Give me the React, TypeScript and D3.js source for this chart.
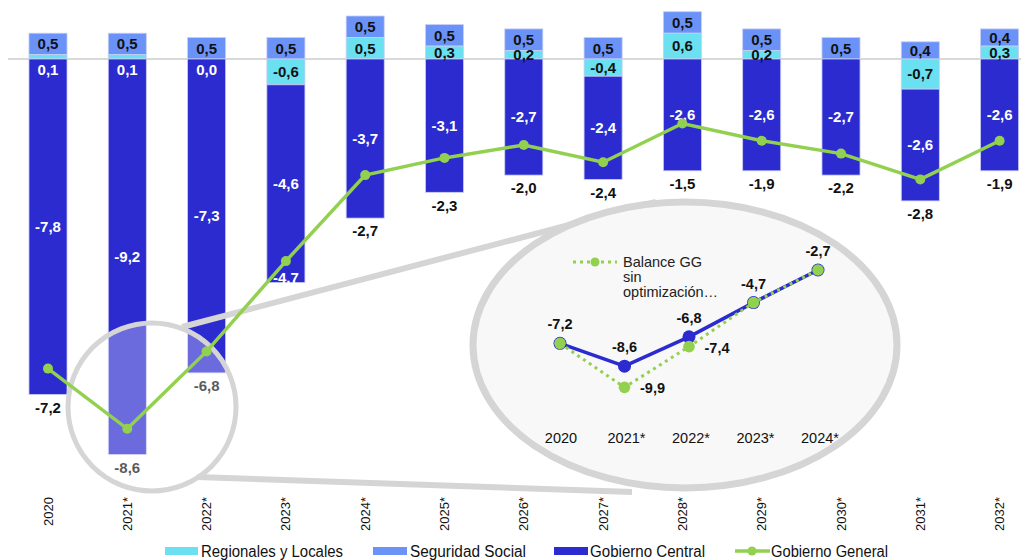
import React from 'react';
import * as d3 from 'd3';

// ---------- data ----------
const years = ['2020', '2021*', '2022*', '2023*', '2024*', '2025*', '2026*', '2027*', '2028*', '2029*', '2030*', '2031*', '2032*'];
const seguridadSocial = [0.5, 0.5, 0.5, 0.5, 0.5, 0.5, 0.5, 0.5, 0.5, 0.5, 0.5, 0.4, 0.4];
const regionalesLocales: (number | null)[] = [0.1, 0.1, 0.0, -0.6, 0.5, 0.3, 0.2, -0.4, 0.6, 0.2, null, -0.7, 0.3];
const gobiernoCentral = [-7.8, -9.2, -7.3, -4.6, -3.7, -3.1, -2.7, -2.4, -2.6, -2.6, -2.7, -2.6, -2.6];
const gobiernoGeneral = [-7.2, -8.6, -6.8, -4.7, -2.7, -2.3, -2.0, -2.4, -1.5, -1.9, -2.2, -2.8, -1.9];
const totalLabelInside = ['2023*'];

const insetYears = ['2020', '2021*', '2022*', '2023*', '2024*'];
const insetBalanceGG = [-7.2, -8.6, -6.8, -4.7, -2.7];
const insetSinOptimizacion = [-7.2, -9.9, -7.4, -4.7, -2.7];
const insetSinOptOnly = ['2021*', '2022*'];

const legendItems = ['Regionales y Locales', 'Seguridad Social', 'Gobierno Central', 'Gobierno General'];

// ---------- styles ----------
const C_CENTRAL = '#2B2BD0';
const C_SS = '#6B93F7';
const C_REG = '#6BE0F0';
const C_GG = '#92D050';
const C_GRAY = '#D5D5D5';
const FONT = "'Liberation Sans', Arial, sans-serif";
const NARROW = "'Liberation Sans Narrow', 'Arial Narrow', 'Liberation Sans', Arial, sans-serif";

const fmt = (v: number) => d3.format('.1f')(v).replace('.', ',').replace('−', '-');

export default function App() {
  const W = 1021, H = 560;
  const x = d3.scaleBand<string>().domain(years).range([8.35, 1039.25]).paddingInner(0.52).paddingOuter(0.26);
  const y = d3.scaleLinear().domain([1, -10]).range([16, 489]);
  const bw = x.bandwidth();
  const cx = (yr: string) => (x(yr) as number) + bw / 2;

  const ix = d3.scalePoint<string>().domain(insetYears).range([560, 818]);
  const iy = d3.scaleLinear().domain([-2, -10]).range([258.6, 389]);

  const line = d3.line<number>().x((_, i) => cx(years[i])).y(d => y(d));
  const iline = d3.line<number>().x((_, i) => ix(insetYears[i]) as number).y(d => iy(d));

  const bars = years.map((yr, i) => {
    const r = regionalesLocales[i] ?? 0;
    const ssBase = r > 0 ? r : 0;
    const cBase = r < 0 ? r : 0;
    return { yr, r, rRaw: regionalesLocales[i], ss: seguridadSocial[i], ssBase, c: gobiernoCentral[i], cBase };
  });
  const rect = (a: number, b: number) => ({ y: y(Math.max(a, b)), height: Math.abs(y(a) - y(b)) });
  const barStroke = '#C9CEF5';

  const lbl = { fontFamily: FONT, fontWeight: 700, fontSize: 15, textAnchor: 'middle' as const };

  return (
    <svg width={W} height={H} style={{ position: 'absolute', left: 0, top: 0, background: '#fff' }}>
      {/* zero line */}
      <line x1={8} x2={W} y1={y(0)} y2={y(0)} stroke="#D9D9D9" strokeWidth={2} />

      {/* bars */}
      {bars.map(b => {
        const X = x(b.yr) as number;
        const ss = rect(b.ssBase, b.ssBase + b.ss);
        const rg = rect(0, b.r);
        const ce = rect(b.cBase, b.cBase + b.c);
        return (
          <g key={b.yr}>
            <rect x={X} width={bw} y={ss.y} height={ss.height} fill={C_SS} stroke={barStroke} strokeWidth={0.8} />
            {b.r !== 0 && <rect x={X} width={bw} y={rg.y} height={rg.height} fill={C_REG} stroke={barStroke} strokeWidth={0.8} />}
            <rect x={X} width={bw} y={ce.y} height={ce.height} fill={C_CENTRAL} stroke={barStroke} strokeWidth={0.8} />
          </g>
        );
      })}

      {/* bar labels */}
      {bars.map(b => {
        const X = cx(b.yr);
        const ssMid = y(b.ssBase + b.ss / 2);
        const cMid = y(b.cBase + b.c / 2);
        const bottom = y(b.cBase + b.c);
        const inside = totalLabelInside.includes(b.yr);
        const tot = gobiernoGeneral[years.indexOf(b.yr)];
        let regLabel = null as React.ReactNode;
        if (b.rRaw !== null) {
          if (Math.abs(b.r) < 0.15) {
            regLabel = <text {...lbl} x={X} y={y(0) + 11} dy="0.35em" fill="#fff">{fmt(b.r)}</text>;
          } else {
            regLabel = <text {...lbl} x={X} y={y(b.r / 2)} dy="0.35em" fill="#111">{fmt(b.r)}</text>;
          }
        }
        return (
          <g key={b.yr}>
            <text {...lbl} x={X} y={ssMid} dy="0.35em" fill="#111">{fmt(b.ss)}</text>
            {regLabel}
            <text {...lbl} x={X} y={cMid} dy="0.35em" fill="#fff">{fmt(b.c)}</text>
            <text {...lbl} x={X} y={inside ? bottom - 5 : bottom + 13} dy="0.35em" fill={inside ? '#fff' : '#111'}>{fmt(tot)}</text>
          </g>
        );
      })}

      {/* magnifier: small lens overlay */}
      <circle cx={152} cy={407} r={84} fill="#fff" fillOpacity={0.3} />
      {/* connectors */}
      <line x1={182} y1={327} x2={656} y2={202} stroke={C_GRAY} strokeWidth={6} />
      <line x1={197} y1={477} x2={632} y2={492} stroke={C_GRAY} strokeWidth={6} />
      <circle cx={152} cy={407} r={84} fill="none" stroke={C_GRAY} strokeWidth={5} />

      {/* big ellipse */}
      <ellipse cx={685} cy={345} rx={212} ry={143} fill="#F8F8F8" stroke={C_GRAY} strokeWidth={7} />

      {/* inset legend */}
      <line x1={573} x2={617} y1={262} y2={262} stroke={C_GG} strokeWidth={3} strokeDasharray="3,4" />
      <circle cx={595} cy={262} r={4.5} fill={C_GG} />
      <g fontFamily={FONT} fontSize={14.5} fill="#222">
        <text x={623} y={262} dy="0.35em">Balance GG</text>
        <text x={623} y={277} dy="0.35em">sin</text>
        <text x={623} y={292} dy="0.35em">optimización…</text>
      </g>

      {/* inset lines */}
      <path d={iline(insetBalanceGG) as string} fill="none" stroke={C_CENTRAL} strokeWidth={3.5} />
      {insetBalanceGG.map((v, i) => (
        <circle key={'b' + i} cx={ix(insetYears[i]) as number} cy={iy(v)} r={6.5} fill={C_CENTRAL} />
      ))}
      <path d={iline(insetSinOptimizacion) as string} fill="none" stroke={C_GG} strokeWidth={3} strokeDasharray="3,4" />
      {insetSinOptimizacion.map((v, i) => (
        <circle key={'g' + i} cx={ix(insetYears[i]) as number} cy={iy(v)} r={5.8} fill={C_GG} />
      ))}
      {insetBalanceGG.map((v, i) => (
        <text key={'bl' + i} {...lbl} fontSize={14.5} x={ix(insetYears[i]) as number} y={iy(v) - 19} dy="0.35em" fill="#111">{fmt(v)}</text>
      ))}
      {insetSinOptimizacion.map((v, i) =>
        insetSinOptOnly.includes(insetYears[i]) ? (
          <text key={'gl' + i} {...lbl} fontSize={14.5} x={(ix(insetYears[i]) as number) + 28} y={iy(v) + 1} dy="0.35em" fill="#111">{fmt(v)}</text>
        ) : null
      )}
      {insetYears.map(yr => (
        <text key={'ix' + yr} x={(ix(yr) as number) + (yr.endsWith('*') ? 2 : 1)} y={438} dy="0.35em" textAnchor="middle" fontFamily={FONT} fontSize={14.5} fill="#111">{yr}</text>
      ))}

      {/* main GG line */}
      <path d={line(gobiernoGeneral) as string} fill="none" stroke={C_GG} strokeWidth={3.5} />
      {gobiernoGeneral.map((v, i) => (
        <circle key={'m' + i} cx={cx(years[i])} cy={y(v)} r={5} fill={C_GG} />
      ))}

      {/* x axis labels */}
      {years.map(yr => (
        <text key={'x' + yr} transform={`translate(${cx(yr)},497) rotate(-90)`} textAnchor="end" dy="0.35em" fontFamily={FONT} fontSize={13} fill="#111">{yr}</text>
      ))}

      {/* legend */}
      <g fontFamily={NARROW} fontSize={16} fill="#111">
        <rect x={165} y={547} width={33} height={8} fill={C_REG} />
        <text x={201} y={551} dy="0.35em" textLength={142} lengthAdjust="spacingAndGlyphs">{legendItems[0]}</text>
        <rect x={373} y={547} width={34} height={8} fill={C_SS} />
        <text x={410} y={551} dy="0.35em" textLength={116} lengthAdjust="spacingAndGlyphs">{legendItems[1]}</text>
        <rect x={554} y={547} width={34} height={8} fill={C_CENTRAL} />
        <text x={590} y={551} dy="0.35em" textLength={115} lengthAdjust="spacingAndGlyphs">{legendItems[2]}</text>
        <line x1={735} x2={770} y1={551} y2={551} stroke={C_GG} strokeWidth={3.5} />
        <circle cx={752} cy={551} r={4.5} fill={C_GG} />
        <text x={771} y={551} dy="0.35em" textLength={117} lengthAdjust="spacingAndGlyphs">{legendItems[3]}</text>
      </g>
    </svg>
  );
}
